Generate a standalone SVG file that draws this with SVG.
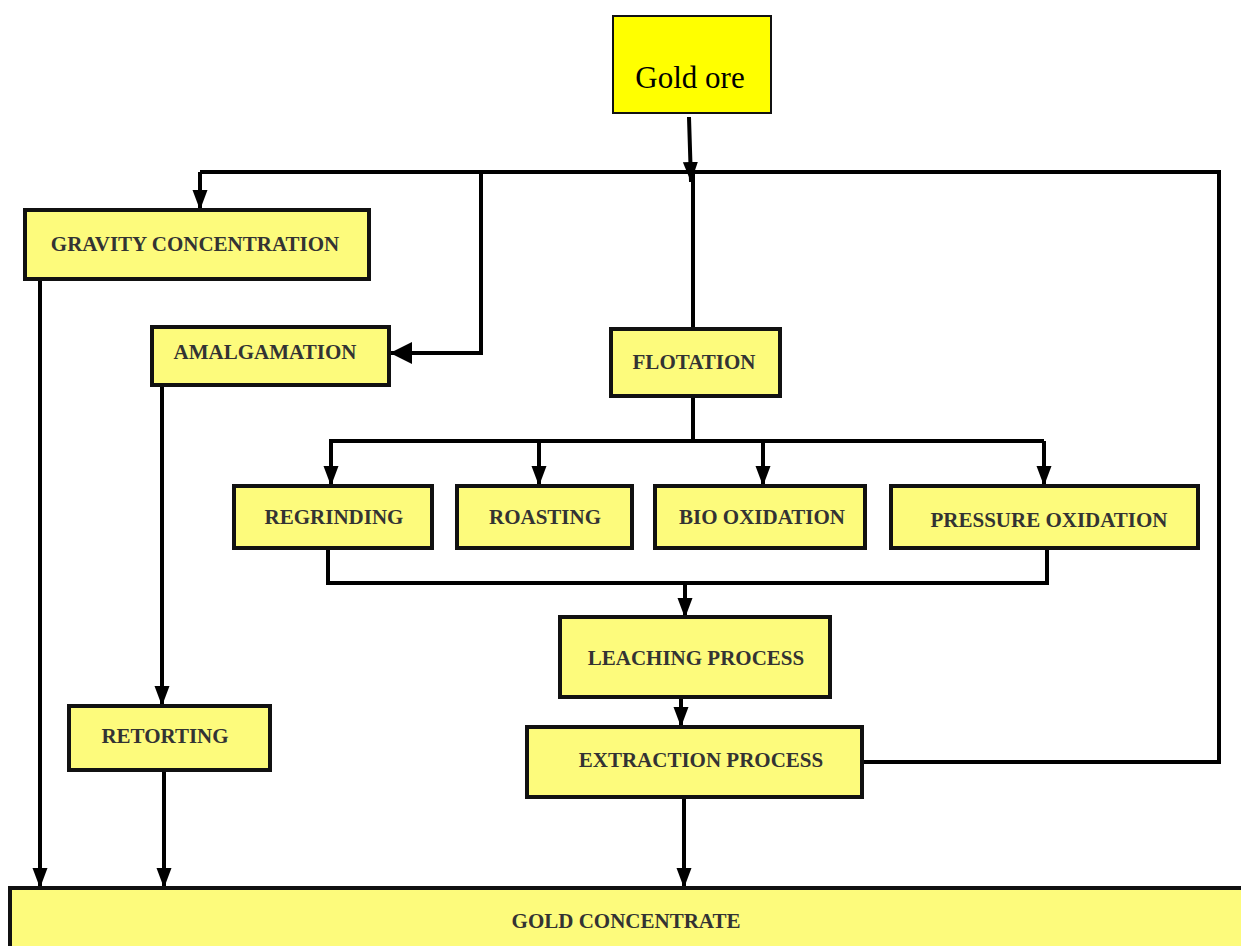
<svg xmlns="http://www.w3.org/2000/svg" width="1241" height="946" viewBox="0 0 1241 946">
<style>
.box{fill:#fdfb7c;stroke:#111;stroke-width:4}
.lbl{font-family:"Liberation Serif",serif;font-weight:bold;font-size:21px;fill:#333;text-anchor:middle}
.ln{fill:none;stroke:#000;stroke-width:4}
</style>
<defs>
<marker id="ah" markerUnits="userSpaceOnUse" markerWidth="20" markerHeight="16" refX="20" refY="7.5" orient="auto">
<path d="M0,0 L20,7.5 L0,15 Z" fill="#000"/>
</marker>
<marker id="ahb" markerUnits="userSpaceOnUse" markerWidth="22" markerHeight="24" refX="22" refY="11" orient="auto">
<path d="M0,0 L22,11 L0,22 Z" fill="#000"/>
</marker>
</defs>
<rect width="1241" height="946" fill="#fff"/>
<g id="connectors">
<path class="ln" d="M689,117 L691,182" marker-end="url(#ah)"/>
<path class="ln" d="M200,172 L1219,172 L1219,762 L862,762"/>
<path class="ln" d="M200,172 L200,210" marker-end="url(#ah)"/>
<path class="ln" d="M481,172 L481,353 L390,353" marker-end="url(#ahb)"/>
<path class="ln" d="M693,172 L693,329"/>
<path class="ln" d="M693,396 L693,441"/>
<path class="ln" d="M329,441 L1044,441"/>
<path class="ln" d="M331,441 L331,486" marker-end="url(#ah)"/>
<path class="ln" d="M539,441 L539,486" marker-end="url(#ah)"/>
<path class="ln" d="M763,441 L763,486" marker-end="url(#ah)"/>
<path class="ln" d="M1044,441 L1044,486" marker-end="url(#ah)"/>
<path class="ln" d="M328,548 L328,583 L1047,583 L1047,548"/>
<path class="ln" d="M685,583 L685,618" marker-end="url(#ah)"/>
<path class="ln" d="M681,697 L681,727" marker-end="url(#ah)"/>
<path class="ln" d="M684,797 L684,888" marker-end="url(#ah)"/>
<path class="ln" d="M40,279 L40,888" marker-end="url(#ah)"/>
<path class="ln" d="M162,385 L162,706" marker-end="url(#ah)"/>
<path class="ln" d="M164,770 L164,888" marker-end="url(#ah)"/>
</g>
<g id="gold-ore">
<rect x="613" y="16" width="158" height="97" fill="#ffff00" stroke="#111" stroke-width="2"/>
<text x="690" y="88" font-family="Liberation Serif,serif" font-size="31" text-anchor="middle" fill="#000">Gold ore</text>
</g>
<g id="gravity">
<rect class="box" x="25" y="210" width="344" height="69"/>
<text class="lbl" x="195" y="251">GRAVITY CONCENTRATION</text>
</g>
<g id="amalgamation">
<rect class="box" x="152" y="327" width="237" height="58"/>
<text class="lbl" x="265" y="359">AMALGAMATION</text>
</g>
<g id="flotation">
<rect class="box" x="611" y="329" width="169" height="67"/>
<text class="lbl" x="694" y="369">FLOTATION</text>
</g>
<g id="regrinding">
<rect class="box" x="234" y="486" width="198" height="62"/>
<text class="lbl" x="334" y="524">REGRINDING</text>
</g>
<g id="roasting">
<rect class="box" x="457" y="486" width="175" height="62"/>
<text class="lbl" x="545" y="524">ROASTING</text>
</g>
<g id="bio-oxidation">
<rect class="box" x="655" y="486" width="210" height="62"/>
<text class="lbl" x="762" y="524">BIO OXIDATION</text>
</g>
<g id="pressure-oxidation">
<rect class="box" x="891" y="486" width="307" height="62"/>
<text class="lbl" x="1049" y="527">PRESSURE OXIDATION</text>
</g>
<g id="leaching">
<rect class="box" x="560" y="617" width="270" height="80"/>
<text class="lbl" x="696" y="665">LEACHING PROCESS</text>
</g>
<g id="extraction">
<rect class="box" x="527" y="727" width="335" height="70"/>
<text class="lbl" x="701" y="767">EXTRACTION PROCESS</text>
</g>
<g id="retorting">
<rect class="box" x="69" y="706" width="201" height="64"/>
<text class="lbl" x="165" y="743">RETORTING</text>
</g>
<g id="gold-concentrate">
<rect class="box" x="10" y="888" width="1235" height="62"/>
<text class="lbl" x="626" y="928">GOLD CONCENTRATE</text>
</g>
</svg>
